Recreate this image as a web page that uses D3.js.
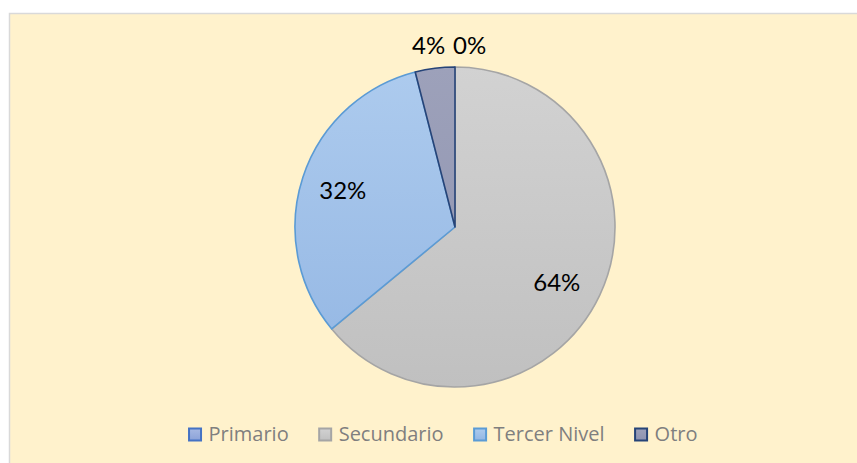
<!DOCTYPE html>
<html>
<head>
<meta charset="utf-8">
<script src="https://cdn.jsdelivr.net/npm/d3@7"></script>
<style>
  body { margin: 0; background: #ffffff; }
  svg { display: block; }
</style>
</head>
<body>
<div id="chart"></div>
<script>
// Chart data
var categories = ["Primario", "Secundario", "Tercer Nivel", "Otro"];
var values = [0, 64, 32, 4];
var labels = ["0%", "64%", "32%", "4%"];

var fillTop = ["#a7b9e3", "#d2d2d2", "#adcbee", "#9da1ba"];
var fillBottom = ["#8ba2d8", "#c0c0c0", "#93b6e3", "#8e93b0"];
var strokeColors = ["#4472c4", "#a5a5a5", "#5b9bd5", "#264478"];

var svgWidth = 857;
var svgHeight = 463;

var svg = d3.select("#chart")
  .append("svg")
  .attr("width", svgWidth)
  .attr("height", svgHeight);

// chart area background + border
svg.append("rect")
  .attr("x", 9.5)
  .attr("y", 13.5)
  .attr("width", svgWidth)
  .attr("height", svgHeight)
  .attr("fill", "#fff2cc")
  .attr("stroke", "#d9d9d9")
  .attr("stroke-width", 1.5);

var cx = 455, cy = 227, radius = 160;

// gradients
var defs = svg.append("defs");
categories.forEach(function(c, i) {
  var g = defs.append("linearGradient")
    .attr("id", "grad" + i)
    .attr("x1", 0).attr("y1", 0)
    .attr("x2", 0).attr("y2", 1);
  g.append("stop").attr("offset", "0%").attr("stop-color", fillTop[i]);
  g.append("stop").attr("offset", "100%").attr("stop-color", fillBottom[i]);
  var gu = defs.append("linearGradient")
    .attr("id", "gradU" + i)
    .attr("gradientUnits", "userSpaceOnUse")
    .attr("x1", 0).attr("y1", -radius)
    .attr("x2", 0).attr("y2", radius);
  gu.append("stop").attr("offset", "0%").attr("stop-color", fillTop[i]);
  gu.append("stop").attr("offset", "100%").attr("stop-color", fillBottom[i]);
});

var pie = d3.pie().sort(null).value(d => d);
var arcs = pie(values);

var arc = d3.arc().innerRadius(0).outerRadius(radius);
var labelArc = d3.arc().innerRadius(118).outerRadius(118);
var outerArc = d3.arc().innerRadius(radius + 22).outerRadius(radius + 22);

var pieGroup = svg.append("g")
  .attr("transform", `translate(${cx}, ${cy})`);

pieGroup.selectAll("path")
  .data(arcs)
  .enter()
  .append("path")
  .attr("d", arc)
  .attr("fill", (d, i) => `url(#gradU${i})`)
  .attr("stroke", (d, i) => strokeColors[i])
  .attr("stroke-width", 1.6)
  .attr("stroke-linejoin", "round");

// data labels
arcs.forEach(function(d, i) {
  var share = (d.endAngle - d.startAngle) / (2 * Math.PI);
  var mid = (d.startAngle + d.endAngle) / 2;
  var x, y, anchor;
  if (share > 0.1) {
    var p = labelArc.centroid(d);
    x = p[0]; y = p[1]; anchor = "middle";
    if (share > 0.5) { x -= 5; y += 5; }
  } else {
    var q = outerArc.centroid(d);
    y = -radius - 21;
    if (mid > Math.PI) { x = q[0] + 13; anchor = "end"; }
    else { x = q[0] - 2; anchor = "start"; }
  }
  pieGroup.append("text")
    .attr("x", x)
    .attr("y", y)
    .attr("dy", "0.35em")
    .attr("text-anchor", anchor)
    .style("font-family", "Lato, 'Liberation Sans', sans-serif")
    .style("font-size", "24px")
    .style("fill", "#000000")
    .text(labels[i]);
});

// legend
var legend = svg.append("g");
var xPos = 0;
var box = 13, gapText = 7, gapItem = 30;
categories.forEach(function(c, i) {
  var item = legend.append("g").attr("transform", `translate(${xPos}, 0)`);
  item.append("rect")
    .attr("x", 0.5).attr("y", -12.5)
    .attr("width", box - 1).attr("height", box - 1)
    .attr("fill", `url(#grad${i})`)
    .attr("stroke", strokeColors[i])
    .attr("stroke-width", 2);
  var t = item.append("text")
    .attr("x", box + gapText)
    .attr("y", 0)
    .style("font-family", "'Open Sans', sans-serif")
    .style("font-size", "20px")
    .style("fill", "#7f7f7f")
    .text(c);
  xPos += box + gapText + t.node().getComputedTextLength() + gapItem;
});
var legendWidth = xPos - gapItem;
legend.attr("transform", `translate(${443 - legendWidth / 2}, 441)`);
</script>
</body>
</html>
